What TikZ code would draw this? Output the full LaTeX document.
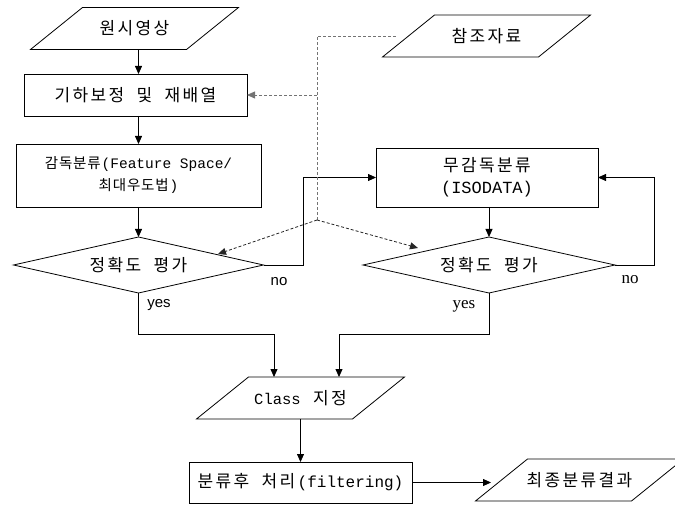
\documentclass[tikz,border=0pt]{standalone}
\usepackage{fontspec}
\setmainfont{Liberation Serif}
\setmonofont{Liberation Mono}
\newfontfamily\kr[LetterSpace=14,WordSpace=2]{Noto Sans CJK KR}
\newfontfamily\krs[LetterSpace=6,WordSpace=2]{Noto Sans CJK KR}
\newfontfamily\arial{Liberation Sans}
\usetikzlibrary{shapes.geometric,arrows.meta,calc}
\tikzset{
  box/.style={draw, rectangle, line width=0.8pt, inner sep=0pt, outer sep=0pt, align=center},
  dia/.style={draw, diamond, aspect=4.5, line width=0.8pt, inner sep=0pt, outer sep=0pt},
  para/.style={rectangle, minimum width=156pt, minimum height=42pt, inner sep=0pt, outer sep=0pt},
  pline/.style={line width=0.8pt, line join=miter},
  txt/.style={font=\kr\fontsize{17}{21}\selectfont},
  arr/.style={-{Triangle[length=8pt,width=7pt]}, line width=0.8pt},
  dsh/.style={dash pattern=on 3pt off 2pt, draw=black!55, line width=0.8pt},
  dsharr/.style={dash pattern=on 3pt off 2pt, draw=black!85, line width=0.8pt,
    -{Triangle[length=8pt,width=7pt]}},
  lbls/.style={font=\arial\fontsize{15}{18}\selectfont, inner sep=0pt},
  lblr/.style={font=\rmfamily\fontsize{17}{20}\selectfont, inner sep=0pt}
}
\newcommand{\drawpara}[1]{%
  \draw[pline] ($(#1.south west)+(-26,0)$) -- ($(#1.south east)+(-26,0)$)
    -- ($(#1.north east)+(26,0)$) -- ($(#1.north west)+(26,0)$) -- cycle;}
\begin{document}
\begin{tikzpicture}[x=1pt,y=-1pt]
\useasboundingbox (0,0) rectangle (675,505);
% nodes
\node[para, txt] (n1) at (134.5,28.5) {원시영상};
\node[box, txt, minimum width=223pt, minimum height=42pt] (n2) at (135.5,95) {기하보정 및 재배열};
\node[box, minimum width=245pt, minimum height=63pt, font=\krs\fontsize{14.5}{22}\selectfont] (n3) at (138.5,175.5)
  {감독분류\texttt{\fontsize{14.5}{22}\selectfont(Feature Space/}\\최대우도법\texttt{\fontsize{14.5}{22}\selectfont)}};
\node[dia, txt, minimum width=250pt, minimum height=56pt] (d1) at (138.5,265) {정확도 평가};
\node[para, txt] (ref) at (486.5,36) {참조자료};
\node[box, minimum width=222pt, minimum height=59pt, font=\kr\fontsize{17}{22}\selectfont] (n4) at (487,177.5)
  {무감독분류\\\texttt{\fontsize{17}{22}\selectfont(ISODATA)}};
\node[dia, txt, minimum width=252pt, minimum height=56pt] (d2) at (489,265) {정확도 평가};
\node[para, txt] (cls) at (300.5,398) {\texttt{\fontsize{15.5}{20}\selectfont Class} 지정};
\node[box, txt, minimum width=223pt, minimum height=41pt] (post) at (300.5,482.5)
  {분류후 처리\texttt{\fontsize{16}{20}\selectfont(filtering)}};
\node[para, txt] (fin) at (579.5,480) {최종분류결과};
\drawpara{n1}
\drawpara{ref}
\drawpara{cls}
\drawpara{fin}
% labels
\node[lbls] (no1) at (279,282) {no};
\node[lbls] (yes1) at (159,305) {yes};
\node[lblr] (no2) at (630,280) {no};
\node[lblr] (yes2) at (464,306) {yes};
% helper coordinates
\coordinate (j1) at (303,177.5);
\coordinate (j2) at (654,177.5);
\coordinate (j3) at (274,334);
\coordinate (j4) at (339,334);
\coordinate (jd) at (317,220);
\coordinate (t1) at (218,254);
\coordinate (t2) at (418,248);
\coordinate (tf) at (491,482.5);
% main flow
\draw[arr] (n1.south -| n3.north) -- (n2.north -| n3.north);
\draw[arr] (n2.south -| n3.north) -- (n3.north);
\draw[arr] (n3.south) -- (d1.north);
\draw[arr] (n4.south -| d2.north) -- (d2.north);
\draw[arr] (d1.east) -| (j1) -- (n4.west);
\draw[arr] (d2.east) -| (j2) -- (n4.east);
\draw[arr] (d1.south) |- (j3) -- (j3 |- cls.north);
\draw[arr] (d2.south) |- (j4) -- (j4 |- cls.north);
\draw[arr] (cls.south -| post.north) -- (post.north);
\draw[arr] (post.east) -- (tf);
% reference data (dashed)
\draw[dsh] ($(ref.west)+(-13,0)$) -- ($(ref.west -| jd)$) -- (jd);
\draw[dsh, -{Triangle[length=8pt,width=7pt]}] (jd |- n2.east) -- (n2.east);
\draw[dsharr] (jd) -- (t1);
\draw[dsharr] (jd) -- (t2);
\end{tikzpicture}
\end{document}
